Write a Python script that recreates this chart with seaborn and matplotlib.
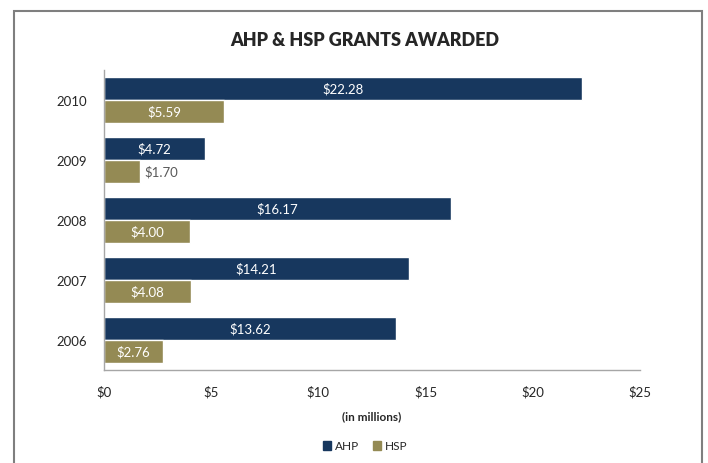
import matplotlib
matplotlib.use("Agg")
import matplotlib.pyplot as plt
import matplotlib.patches as mpatches
from matplotlib.ticker import FuncFormatter, FixedLocator
import seaborn as sns
import pandas as pd

# data (in millions)
years = ["2010", "2009", "2008", "2007", "2006"]
ahp = [22.28, 4.72, 16.17, 14.21, 13.62]
hsp = [5.59, 1.70, 4.00, 4.08, 2.76]
programs = ["AHP", "HSP"]
x_ticks = [0, 5, 10, 15, 20, 25]

colors = {"AHP": "#17375E", "HSP": "#948A54"}

df = pd.DataFrame({
    "year": years * 2,
    "amount": ahp + hsp,
    "program": ["AHP"] * len(years) + ["HSP"] * len(years),
})

sns.set_style("white")
plt.rcParams["font.family"] = ["Lato", "DejaVu Sans"]

fig = plt.figure(figsize=(7.08, 4.64), dpi=100)
ax = fig.add_axes([104 / 708, 1 - 371 / 464, 536 / 708, 300 / 464])

sns.barplot(data=df, x="amount", y="year", hue="program", order=years,
            hue_order=programs, palette=colors, orient="h", width=0.77,
            saturation=1, ax=ax, legend=False)

# value labels
for cont in ax.containers:
    for bar in cont:
        w = bar.get_width()
        yc = bar.get_y() + bar.get_height() / 2
        if w < 2:
            ax.text(w + 0.2, yc, f"${w:.2f}", ha="left", va="center",
                    fontsize=9.5, color="#595959")
        else:
            ax.text(w / 2, yc, f"${w:.2f}", ha="center", va="center",
                    fontsize=9.5, color="white")

ax.set_xlim(0, 25)
ax.set_ylim(len(years) - 0.5, -0.5)
ax.xaxis.set_major_locator(FixedLocator(x_ticks))
ax.xaxis.set_major_formatter(FuncFormatter(lambda v, p: f"${v:.0f}"))
ax.set_ylabel("")
ax.set_xlabel("(in millions)", fontsize=8.5, fontweight="bold", labelpad=9)

for s in ["top", "right"]:
    ax.spines[s].set_visible(False)
for s in ["left", "bottom"]:
    ax.spines[s].set_color("#A6A6A6")
    ax.spines[s].set_linewidth(1.0)

ax.tick_params(axis="y", which="major", length=0, pad=12, labelsize=9.5)
ax.set_yticks([i - 0.5 for i in range(len(years) + 1)], minor=True)
ax.tick_params(axis="y", which="minor", length=5, direction="out",
               color="#A6A6A6")
ax.tick_params(axis="x", which="major", length=5, direction="out",
               color="#A6A6A6", labelsize=9.5, pad=6)

fig.suptitle("AHP & HSP GRANTS AWARDED", x=365 / 708, y=1 - 40 / 464,
             fontsize=13, fontweight="heavy", va="center")

handles = [mpatches.Patch(color=colors[p], label=p) for p in programs]
fig.legend(handles=handles, loc="center", bbox_to_anchor=(365 / 708, 1 - 447 / 464),
           ncol=2, frameon=False, fontsize=8.5, handlelength=0.7, handleheight=0.7,
           columnspacing=1.2, handletextpad=0.3)

# outer chart frame (bottom edge lies below the image)
frame = mpatches.Rectangle((14 / 708, -0.05), 688 / 708, 1 - 12 / 464 + 0.05,
                           transform=fig.transFigure, fill=False,
                           edgecolor="#7F7F7F", linewidth=1.5, clip_on=False)
fig.add_artist(frame)

fig.savefig("out.png", dpi=100)
